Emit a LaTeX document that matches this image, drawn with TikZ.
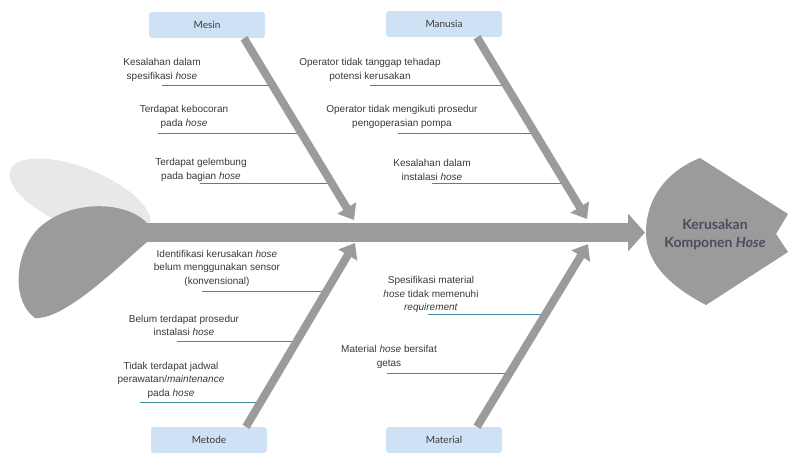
\documentclass[tikz,border=0pt]{standalone}
\usepackage{fontspec}
\setmainfont{Liberation Sans}
\newfontfamily\latofont{Lato}
\usetikzlibrary{arrows.meta}
\definecolor{bonegray}{HTML}{9B9B9B}
\definecolor{taillight}{HTML}{E8E8E8}
\definecolor{catblue}{HTML}{CFE2F5}
\definecolor{branchteal}{HTML}{3F889D}
\definecolor{txtgray}{HTML}{383838}
\definecolor{headtxt}{HTML}{4A4E5A}

\tikzset{
  category/.style={fill=catblue, rounded corners=3pt, minimum width=116pt,
    minimum height=26pt, inner sep=0pt, font=\latofont\fontsize{10}{12}\selectfont, text=txtgray},
  cause/.style={align=center, inner sep=0pt, font=\fontsize{10}{13.5}\selectfont, text=txtgray},
  branch/.style={draw=branchteal, line width=1pt, shift={(0,0.5)}},
  bone/.style={draw=bonegray, line width=8pt, -{Triangle[width=21pt,length=14pt]}},
  spine/.style={draw=bonegray, line width=19pt, -{Triangle[width=37pt,length=17pt]}}
}

\begin{document}
\begin{tikzpicture}[x=1pt, y=-1pt]
  \useasboundingbox (0,0) rectangle (788,455);

  % Tail
  \fill[taillight, rotate around={-22:(80,198)}] (80,198) ellipse (75 and 30);
  \fill[bonegray] (147,223) .. controls (125,200) and (70,200) .. (40,227)
    .. controls (15,250) and (10,300) .. (35,318)
    .. controls (65,320) and (120,265) .. (147,242) -- cycle;

  % Head
  \fill[bonegray] (700,158) -- (788,214) -- (776,234) -- (788,252) -- (706,305)
    .. controls (662,282) and (646,258) .. (646,232)
    .. controls (646,200) and (665,172) .. (700,158) -- cycle;
  \node[font=\latofont\bfseries\fontsize{14}{18}\selectfont, text=headtxt, align=center]
    (head) at (715,234) {Kerusakan\\Komponen \textit{Hose}};

  % Spine
  \coordinate (tail) at (145,232.5);
  \coordinate (spinetip) at (645,232.5);
  \draw[spine] (tail) -- (spinetip);

  % Categories
  \node[category] (mesin) at (207,25) {Mesin};
  \node[category] (manusia) at (444,24) {Manusia};
  \node[category] (metode) at (209,440) {Metode};
  \node[category] (material) at (444,440) {Material};

  % Causes: Mesin
  \node[cause] (ms1) at (162,70) {Kesalahan dalam\\spesifikasi \textit{hose}};
  \node[cause] (ms2) at (184,117) {Terdapat kebocoran\\pada \textit{hose}};
  \node[cause] (ms3) at (201,170) {Terdapat gelembung\\pada bagian \textit{hose}};
  \coordinate (ms1a) at (162,85);  \coordinate (ms1b) at (273,85);
  \coordinate (ms2a) at (158,133); \coordinate (ms2b) at (302,133);
  \coordinate (ms3a) at (200,183); \coordinate (ms3b) at (332,183);
  \draw[branch] (ms1a) -- (ms1b);
  \draw[branch] (ms2a) -- (ms2b);
  \draw[branch] (ms3a) -- (ms3b);

  % Causes: Manusia
  \node[cause] (mn1) at (370,70) {Operator tidak tanggap tehadap\\potensi kerusakan};
  \node[cause] (mn2) at (402,117) {Operator tidak mengikuti prosedur\\pengoperasian pompa};
  \node[cause] (mn3) at (432,170) {Kesalahan dalam\\instalasi \textit{hose}};
  \coordinate (mn1a) at (370,85);  \coordinate (mn1b) at (506,85);
  \coordinate (mn2a) at (398,133); \coordinate (mn2b) at (535,133);
  \coordinate (mn3a) at (432,183); \coordinate (mn3b) at (565,183);
  \draw[branch] (mn1a) -- (mn1b);
  \draw[branch] (mn2a) -- (mn2b);
  \draw[branch] (mn3a) -- (mn3b);

  % Causes: Metode
  \node[cause] (mt1) at (217,268) {Identifikasi kerusakan \textit{hose}\\belum menggunakan sensor\\(konvensional)};
  \node[cause] (mt2) at (184,325.5) {Belum terdapat prosedur\\instalasi \textit{hose}};
  \node[cause] (mt3) at (171,380) {Tidak terdapat jadwal\\perawatan/\textit{maintenance}\\pada \textit{hose}};
  \coordinate (mt1a) at (202,291); \coordinate (mt1b) at (327,291);
  \coordinate (mt2a) at (177,341); \coordinate (mt2b) at (297,341);
  \coordinate (mt3a) at (140,402); \coordinate (mt3b) at (261,402);
  \draw[branch] (mt1a) -- (mt1b);
  \draw[branch] (mt2a) -- (mt2b);
  \draw[branch] (mt3a) -- (mt3b);

  % Causes: Material
  \node[cause] (ma1) at (431,294.5) {Spesifikasi material\\\textit{hose} tidak memenuhi\\\textit{requirement}};
  \node[cause] (ma2) at (389,357) {Material \textit{hose} bersifat\\getas};
  \coordinate (ma1a) at (428,314); \coordinate (ma1b) at (546,314);
  \coordinate (ma2a) at (387,373); \coordinate (ma2b) at (510,373);
  \draw[branch] (ma1a) -- (ma1b);
  \draw[branch] (ma2a) -- (ma2b);

  % Bones
  \coordinate (mesintip) at (354,220);
  \coordinate (manusiatip) at (587,219);
  \coordinate (metodetip) at (355,243);
  \coordinate (materialtip) at (588,244);
  \draw[bone] ([xshift=37pt]mesin.south) -- (mesintip);
  \draw[bone] ([xshift=33pt]manusia.south) -- (manusiatip);
  \draw[bone] ([xshift=37pt]metode.north) -- (metodetip);
  \draw[bone] ([xshift=33pt]material.north) -- (materialtip);

\end{tikzpicture}
\end{document}
